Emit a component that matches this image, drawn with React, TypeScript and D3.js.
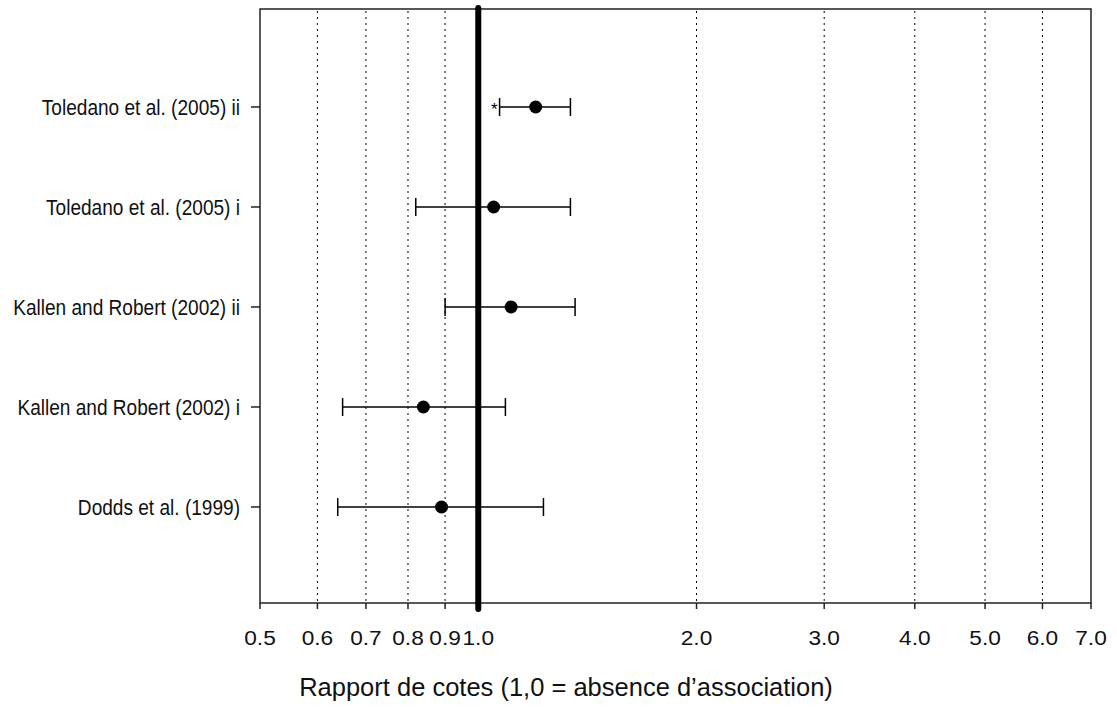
import React from 'react';
import * as d3 from 'd3';

const studies = [
  'Toledano et al. (2005) ii',
  'Toledano et al. (2005) i',
  'Kallen and Robert (2002) ii',
  'Kallen and Robert (2002) i',
  'Dodds et al. (1999)',
];
const oddsRatios = [1.2, 1.05, 1.11, 0.84, 0.89];
const lowerCI = [1.07, 0.82, 0.9, 0.65, 0.64];
const upperCI = [1.34, 1.34, 1.36, 1.09, 1.23];
const markers = ['*', '', '', '', ''];
const xTicks = [0.5, 0.6, 0.7, 0.8, 0.9, 1.0, 2.0, 3.0, 4.0, 5.0, 6.0, 7.0];
const gridTicks = [0.6, 0.7, 0.8, 0.9, 2.0, 3.0, 4.0, 5.0, 6.0];
const referenceValue = 1.0;
const xTitle = 'Rapport de cotes (1,0 = absence d\u2019association)';

const W = 1117;
const H = 708;
const left = 260;
const right = 1091;
const top = 9;
const bottom = 603;
const FONT = '"Liberation Sans", Arial, sans-serif';

export default function App() {
  const x = d3.scaleLog().domain([0.5, 7]).range([left, right]);
  const y = d3.scalePoint<string>().domain(studies).range([107, 507]);
  const fmt = d3.format('.1f');

  return (
    <svg
      width={W}
      height={H}
      style={{ position: 'absolute', left: 0, top: 0, background: '#fff' }}
    >
      {/* grid lines */}
      {gridTicks.map((t) => (
        <line
          key={'g' + t}
          x1={x(t)}
          x2={x(t)}
          y1={top + 2}
          y2={bottom}
          stroke="#000"
          strokeWidth={1}
          strokeDasharray="2,4"
        />
      ))}
      {/* frame */}
      <rect
        x={left}
        y={top}
        width={right - left}
        height={bottom - top}
        fill="none"
        stroke="#222"
        strokeWidth={1.5}
      />
      {/* bottom ticks */}
      {xTicks.map((t) => (
        <line key={'t' + t} x1={x(t)} x2={x(t)} y1={bottom} y2={bottom + 6} stroke="#222" strokeWidth={1.5} />
      ))}
      {/* tick labels */}
      {xTicks.map((t) => (
        <g key={'l' + t} transform={`translate(${x(t)},645) scale(1.08,1)`}>
          <text textAnchor="middle" fontFamily={FONT} fontSize={21} fill="#111">
            {fmt(t)}
          </text>
        </g>
      ))}
      {/* y ticks and labels */}
      {studies.map((s) => (
        <g key={'y' + s}>
          <line x1={left - 9} x2={left} y1={y(s)} y2={y(s)} stroke="#222" strokeWidth={1.5} />
          <g transform={`translate(240,${(y(s) as number) + 8}) scale(0.867,1)`}>
            <text textAnchor="end" fontFamily={FONT} fontSize={22} fill="#111">
              {s}
            </text>
          </g>
        </g>
      ))}
      {/* reference line */}
      <line
        x1={x(referenceValue)}
        x2={x(referenceValue)}
        y1={8}
        y2={609}
        stroke="#000"
        strokeWidth={6}
        strokeLinecap="round"
      />
      {/* error bars and points */}
      {studies.map((s, i) => {
        const yy = y(s) as number;
        return (
          <g key={'e' + s}>
            <line x1={x(lowerCI[i])} x2={x(upperCI[i])} y1={yy} y2={yy} stroke="#000" strokeWidth={1.5} />
            <line x1={x(lowerCI[i])} x2={x(lowerCI[i])} y1={yy - 9} y2={yy + 9} stroke="#000" strokeWidth={1.5} />
            <line x1={x(upperCI[i])} x2={x(upperCI[i])} y1={yy - 9} y2={yy + 9} stroke="#000" strokeWidth={1.5} />
            <circle cx={x(oddsRatios[i])} cy={yy} r={6.5} fill="#000" />
            {markers[i] && (
              <text
                x={x(lowerCI[i]) - 2}
                y={yy + 8}
                textAnchor="end"
                fontFamily={FONT}
                fontSize={17}
                fill="#000"
              >
                {markers[i]}
              </text>
            )}
          </g>
        );
      })}
      {/* title */}
      <text x={566} y={696} textAnchor="middle" fontFamily={FONT} fontSize={25.5} fill="#111">
        {xTitle}
      </text>
    </svg>
  );
}
